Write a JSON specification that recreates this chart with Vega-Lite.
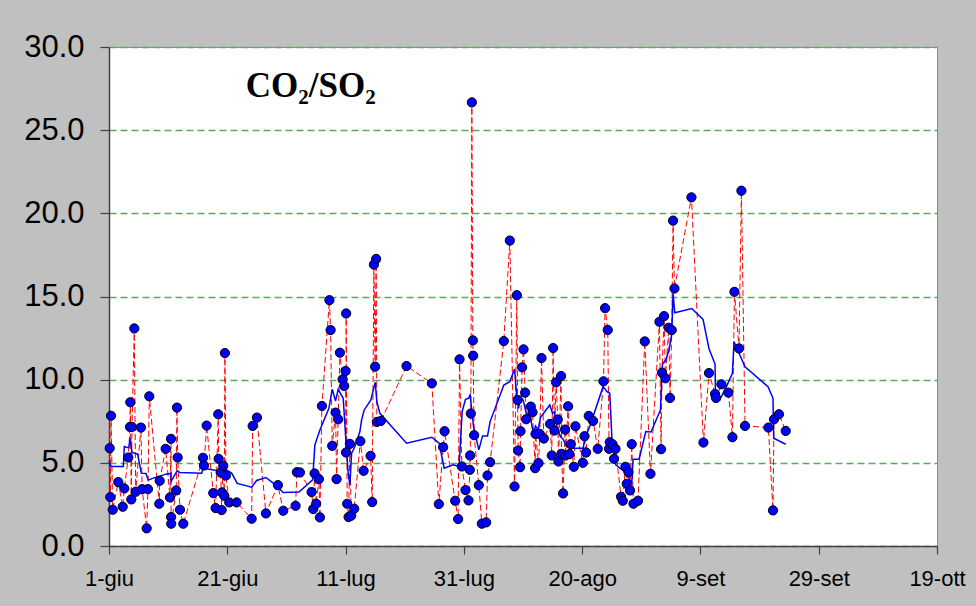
{
  "$schema": "https://vega.github.io/schema/vega-lite/v6.json",
  "width": 828,
  "height": 499,
  "autosize": "none",
  "padding": {"left": 109, "top": 47, "right": 39, "bottom": 60},
  "background": "#c0c0c0",
  "config": {
    "view": {"fill": "#ffffff", "stroke": "#8c8c8c", "strokeWidth": 1},
    "axis": {
      "labelFont": "Liberation Sans",
      "labelColor": "#000000",
      "domainColor": "#404040",
      "tickColor": "#404040",
      "domainWidth": 1.5,
      "tickWidth": 1.2,
      "title": null
    }
  },
  "datasets": {
    "obs": [
      {"day":0.12,"ratio":5.88},{"day":0.22,"ratio":2.94},{"day":0.34,"ratio":7.83},{"day":0.63,"ratio":2.18},{"day":1.57,"ratio":3.84},{"day":2.32,"ratio":2.36},{"day":2.59,"ratio":3.46},{"day":3.26,"ratio":5.32},{"day":3.55,"ratio":7.16},{"day":3.6,"ratio":8.64},{"day":3.77,"ratio":2.8},{"day":3.89,"ratio":7.16},{"day":4.28,"ratio":13.08},{"day":4.51,"ratio":3.26},{"day":5.4,"ratio":7.12},{"day":5.6,"ratio":3.42},{"day":6.37,"ratio":1.06},{"day":6.59,"ratio":3.42},{"day":6.81,"ratio":9.0},{"day":8.5,"ratio":2.54},{"day":8.57,"ratio":3.92},{"day":9.58,"ratio":5.84},{"day":10.31,"ratio":2.92},{"day":10.48,"ratio":6.44},{"day":10.5,"ratio":1.74},{"day":10.52,"ratio":1.34},{"day":11.37,"ratio":3.34},{"day":11.49,"ratio":8.32},{"day":11.61,"ratio":5.32},{"day":12.0,"ratio":2.18},{"day":12.56,"ratio":1.34},{"day":15.89,"ratio":5.3},{"day":16.06,"ratio":4.84},{"day":16.51,"ratio":7.24},{"day":17.63,"ratio":3.18},{"day":18.03,"ratio":2.28},{"day":18.47,"ratio":7.92},{"day":18.54,"ratio":5.24},{"day":18.88,"ratio":4.42},{"day":19.05,"ratio":2.16},{"day":19.1,"ratio":3.22},{"day":19.32,"ratio":4.82},{"day":19.49,"ratio":3.02},{"day":19.6,"ratio":11.6},{"day":19.77,"ratio":4.24},{"day":20.33,"ratio":2.62},{"day":21.58,"ratio":2.62},{"day":24.12,"ratio":1.64},{"day":24.29,"ratio":7.22},{"day":25.01,"ratio":7.72},{"day":26.53,"ratio":1.96},{"day":28.56,"ratio":3.66},{"day":29.46,"ratio":2.12},{"day":31.55,"ratio":2.42},{"day":31.77,"ratio":4.44},{"day":32.28,"ratio":4.42},{"day":34.26,"ratio":3.24},{"day":34.53,"ratio":2.22},{"day":34.76,"ratio":4.36},{"day":35.03,"ratio":2.54},{"day":35.49,"ratio":4.02},{"day":35.66,"ratio":1.72},{"day":36.0,"ratio":8.42},{"day":37.27,"ratio":14.78},{"day":37.47,"ratio":12.98},{"day":37.74,"ratio":6.02},{"day":38.31,"ratio":8.02},{"day":38.48,"ratio":4.02},{"day":38.75,"ratio":7.62},{"day":39.04,"ratio":11.62},{"day":39.5,"ratio":10.02},{"day":39.77,"ratio":9.62},{"day":40.0,"ratio":10.52},{"day":40.08,"ratio":5.62},{"day":40.1,"ratio":13.98},{"day":40.27,"ratio":2.54},{"day":40.51,"ratio":1.74},{"day":40.73,"ratio":6.14},{"day":40.95,"ratio":1.82},{"day":41.46,"ratio":2.24},{"day":42.5,"ratio":6.3},{"day":43.05,"ratio":4.52},{"day":44.23,"ratio":5.42},{"day":44.5,"ratio":2.64},{"day":44.79,"ratio":16.92},{"day":45.0,"ratio":10.78},{"day":45.17,"ratio":17.26},{"day":45.29,"ratio":7.46},{"day":45.97,"ratio":7.52},{"day":50.31,"ratio":10.82},{"day":54.59,"ratio":9.78},{"day":55.77,"ratio":2.52},{"day":56.5,"ratio":5.94},{"day":56.74,"ratio":6.9},{"day":58.53,"ratio":2.72},{"day":59.03,"ratio":1.62},{"day":59.27,"ratio":11.22},{"day":59.66,"ratio":4.78},{"day":60.28,"ratio":3.36},{"day":60.79,"ratio":2.74},{"day":61.01,"ratio":4.58},{"day":61.06,"ratio":5.44},{"day":61.18,"ratio":7.96},{"day":61.35,"ratio":26.67},{"day":61.52,"ratio":12.36},{"day":61.57,"ratio":11.44},{"day":61.74,"ratio":6.66},{"day":62.53,"ratio":3.66},{"day":63.04,"ratio":1.34},{"day":63.77,"ratio":1.42},{"day":64.0,"ratio":4.24},{"day":64.44,"ratio":5.04},{"day":66.76,"ratio":12.32},{"day":67.77,"ratio":18.36},{"day":68.57,"ratio":3.58},{"day":68.96,"ratio":15.08},{"day":69.08,"ratio":8.78},{"day":69.18,"ratio":5.74},{"day":69.51,"ratio":4.74},{"day":69.58,"ratio":6.9},{"day":69.85,"ratio":10.74},{"day":70.09,"ratio":11.82},{"day":70.36,"ratio":9.22},{"day":70.53,"ratio":7.62},{"day":71.32,"ratio":8.38},{"day":71.61,"ratio":8.04},{"day":72.05,"ratio":4.68},{"day":72.12,"ratio":6.74},{"day":72.62,"ratio":4.98},{"day":72.84,"ratio":6.74},{"day":73.13,"ratio":11.3},{"day":73.52,"ratio":6.46},{"day":74.58,"ratio":7.34},{"day":74.87,"ratio":5.44},{"day":75.09,"ratio":11.9},{"day":75.33,"ratio":6.94},{"day":75.6,"ratio":9.84},{"day":75.88,"ratio":7.6},{"day":76.0,"ratio":5.08},{"day":76.44,"ratio":10.22},{"day":76.51,"ratio":5.54},{"day":76.78,"ratio":3.16},{"day":77.12,"ratio":7.0},{"day":77.19,"ratio":5.44},{"day":77.63,"ratio":8.4},{"day":77.86,"ratio":5.52},{"day":78.08,"ratio":6.12},{"day":78.59,"ratio":4.76},{"day":78.87,"ratio":7.2},{"day":80.11,"ratio":5.0},{"day":80.4,"ratio":6.6},{"day":80.67,"ratio":5.62},{"day":81.12,"ratio":7.82},{"day":81.85,"ratio":7.52},{"day":82.64,"ratio":5.84},{"day":83.61,"ratio":9.9},{"day":83.88,"ratio":14.3},{"day":84.33,"ratio":12.99},{"day":84.55,"ratio":5.84},{"day":84.67,"ratio":6.24},{"day":85.13,"ratio":6.12},{"day":85.4,"ratio":5.24},{"day":85.64,"ratio":5.84},{"day":86.58,"ratio":2.96},{"day":86.87,"ratio":2.72},{"day":87.32,"ratio":4.76},{"day":87.54,"ratio":3.74},{"day":87.83,"ratio":4.44},{"day":88.1,"ratio":3.34},{"day":88.39,"ratio":6.12},{"day":88.68,"ratio":2.54},{"day":89.45,"ratio":2.72},{"day":90.59,"ratio":12.3},{"day":91.55,"ratio":4.34},{"day":93.07,"ratio":13.48},{"day":93.34,"ratio":5.82},{"day":93.51,"ratio":10.42},{"day":93.85,"ratio":13.82},{"day":94.08,"ratio":10.08},{"day":94.64,"ratio":13.12},{"day":94.86,"ratio":8.9},{"day":95.15,"ratio":12.98},{"day":95.37,"ratio":19.56},{"day":95.61,"ratio":15.48},{"day":98.48,"ratio":20.96},{"day":100.51,"ratio":6.22},{"day":101.45,"ratio":10.4},{"day":102.47,"ratio":9.14},{"day":102.64,"ratio":8.9},{"day":103.55,"ratio":9.72},{"day":104.73,"ratio":9.22},{"day":105.41,"ratio":6.54},{"day":105.75,"ratio":15.28},{"day":106.52,"ratio":11.88},{"day":106.93,"ratio":21.36},{"day":107.54,"ratio":7.22},{"day":111.49,"ratio":7.12},{"day":112.27,"ratio":2.14},{"day":112.44,"ratio":7.62},{"day":113.28,"ratio":7.92},{"day":114.42,"ratio":6.92}
    ],
    "ma": [
      {"day":0,"ratio":5.1},{"day":0.34,"ratio":4.78},{"day":2.42,"ratio":4.78},{"day":2.59,"ratio":5.98},{"day":3.33,"ratio":5.9},{"day":3.6,"ratio":6.48},{"day":3.89,"ratio":5.62},{"day":4.85,"ratio":5.52},{"day":5.46,"ratio":4.38},{"day":6.25,"ratio":4.36},{"day":6.64,"ratio":3.96},{"day":7.49,"ratio":4.08},{"day":9.63,"ratio":4.32},{"day":10.48,"ratio":4.38},{"day":10.5,"ratio":3.88},{"day":11.54,"ratio":4.54},{"day":12.0,"ratio":4.42},{"day":15.67,"ratio":4.38},{"day":15.94,"ratio":4.68},{"day":18.47,"ratio":4.52},{"day":18.76,"ratio":4.38},{"day":19.6,"ratio":4.62},{"day":20.74,"ratio":4.38},{"day":21.68,"ratio":3.76},{"day":24.12,"ratio":3.54},{"day":24.96,"ratio":3.94},{"day":26.53,"ratio":4.12},{"day":27.77,"ratio":3.78},{"day":29.46,"ratio":3.22},{"day":32.11,"ratio":3.24},{"day":34.43,"ratio":3.98},{"day":34.81,"ratio":6.08},{"day":35.66,"ratio":6.98},{"day":37.18,"ratio":8.28},{"day":37.74,"ratio":9.42},{"day":38.31,"ratio":8.72},{"day":38.75,"ratio":9.42},{"day":39.6,"ratio":8.88},{"day":40.05,"ratio":6.38},{"day":40.44,"ratio":4.38},{"day":40.73,"ratio":3.68},{"day":41.02,"ratio":5.58},{"day":41.58,"ratio":5.98},{"day":42.42,"ratio":6.88},{"day":42.71,"ratio":7.58},{"day":43.15,"ratio":8.18},{"day":44.28,"ratio":8.78},{"day":45.01,"ratio":9.84},{"day":45.29,"ratio":8.68},{"day":45.8,"ratio":7.98},{"day":50.31,"ratio":6.18},{"day":54.59,"ratio":6.54},{"day":55.82,"ratio":6.18},{"day":56.67,"ratio":4.68},{"day":58.19,"ratio":4.88},{"day":59.2,"ratio":4.78},{"day":59.71,"ratio":8.08},{"day":60.28,"ratio":8.82},{"day":60.79,"ratio":8.88},{"day":61.06,"ratio":9.08},{"day":61.64,"ratio":7.18},{"day":62.53,"ratio":5.78},{"day":63.16,"ratio":6.62},{"day":64.0,"ratio":6.62},{"day":64.44,"ratio":7.48},{"day":66.76,"ratio":9.68},{"day":67.77,"ratio":9.88},{"day":68.57,"ratio":10.64},{"day":68.9,"ratio":9.18},{"day":69.24,"ratio":8.28},{"day":69.58,"ratio":8.98},{"day":70.02,"ratio":8.78},{"day":70.59,"ratio":7.94},{"day":71.27,"ratio":7.78},{"day":71.71,"ratio":6.78},{"day":72.12,"ratio":7.22},{"day":72.55,"ratio":6.98},{"day":72.96,"ratio":7.74},{"day":74.53,"ratio":8.48},{"day":74.99,"ratio":7.98},{"day":75.33,"ratio":8.08},{"day":75.76,"ratio":6.98},{"day":76.1,"ratio":6.78},{"day":76.44,"ratio":6.54},{"day":76.78,"ratio":6.42},{"day":77.35,"ratio":5.98},{"day":78.47,"ratio":5.88},{"day":80.16,"ratio":5.88},{"day":80.57,"ratio":6.58},{"day":81.29,"ratio":7.18},{"day":83.54,"ratio":9.58},{"day":84.21,"ratio":9.28},{"day":84.67,"ratio":9.18},{"day":85.06,"ratio":6.28},{"day":85.68,"ratio":4.88},{"day":87.49,"ratio":4.38},{"day":88.39,"ratio":3.78},{"day":88.61,"ratio":5.22},{"day":89.63,"ratio":5.22},{"day":90.76,"ratio":6.88},{"day":91.65,"ratio":6.86},{"day":93.24,"ratio":8.18},{"day":93.58,"ratio":10.94},{"day":94.14,"ratio":11.18},{"day":94.69,"ratio":11.78},{"day":95.15,"ratio":12.74},{"day":95.37,"ratio":15.18},{"day":95.66,"ratio":14.02},{"day":98.53,"ratio":14.28},{"day":100.44,"ratio":13.62},{"day":101.45,"ratio":11.86},{"day":102.47,"ratio":10.94},{"day":102.54,"ratio":9.28},{"day":103.26,"ratio":8.78},{"day":104.39,"ratio":9.58},{"day":105.41,"ratio":10.38},{"day":105.68,"ratio":12.28},{"day":107.54,"ratio":10.78},{"day":111.43,"ratio":9.58},{"day":112.27,"ratio":8.88},{"day":112.39,"ratio":6.48},{"day":114.42,"ratio":6.12}
    ],
    "label": [{"text": "CO₂/SO₂"}]
  },
  "layer": [
    {
      "data": {"name": "obs"},
      "mark": {"type": "line", "color": "#ff0000", "strokeWidth": 1, "strokeDash": [6, 3]},
      "encoding": {
        "x": {
          "field": "day", "type": "quantitative",
          "scale": {"domain": [0, 140], "nice": false, "zero": false},
          "axis": {
            "values": [0, 20, 40, 60, 80, 100, 120, 140],
            "labelExpr": "timeFormat(datetime(2021,5,1+datum.value),'%-d') + '-' + ['gen','feb','mar','apr','mag','giu','lug','ago','set','ott','nov','dic'][month(datetime(2021,5,1+datum.value))]",
            "grid": false,
            "tickSize": 8,
            "labelFontSize": 22,
            "labelPadding": 14,
            "labelFlush": false,
            "labelOverlap": false,
            "labelBound": false
          }
        },
        "y": {
          "field": "ratio", "type": "quantitative",
          "scale": {"domain": [0, 30], "nice": false},
          "axis": {
            "values": [0, 5, 10, 15, 20, 25, 30],
            "format": ".1f",
            "grid": true,
            "gridColor": "#5aaa5a",
            "gridDash": [7, 4],
            "gridWidth": 1.3,
            "tickSize": 9,
            "labelFontSize": 31,
            "labelPadding": 16
          }
        }
      }
    },
    {
      "data": {"name": "ma"},
      "mark": {"type": "line", "color": "#0000ff", "strokeWidth": 1.5},
      "encoding": {
        "x": {"field": "day", "type": "quantitative"},
        "y": {"field": "ratio", "type": "quantitative"}
      }
    },
    {
      "data": {"name": "obs"},
      "mark": {"type": "point", "shape": "circle", "filled": true, "fill": "#0000ff", "stroke": "#000000", "strokeWidth": 1, "size": 85, "opacity": 1},
      "encoding": {
        "x": {"field": "day", "type": "quantitative"},
        "y": {"field": "ratio", "type": "quantitative"}
      }
    },
    {
      "data": {"name": "label"},
      "mark": {"type": "text", "font": "Liberation Serif", "fontWeight": "bold", "fontSize": 35, "align": "center", "baseline": "alphabetic", "color": "#000000"},
      "encoding": {
        "text": {"field": "text", "type": "nominal"},
        "x": {"datum": 34.1, "type": "quantitative"},
        "y": {"datum": 27.0, "type": "quantitative"}
      }
    }
  ]
}
